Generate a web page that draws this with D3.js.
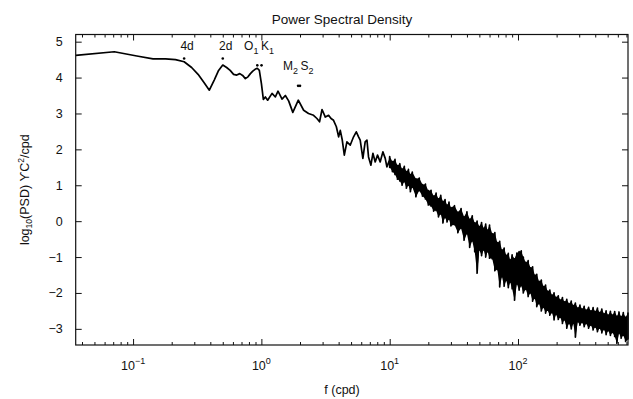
<!DOCTYPE html>
<html>
<head>
<meta charset="utf-8">
<script src="https://cdn.jsdelivr.net/npm/d3@7"></script>
<style>
  body { margin: 0; background: #fff; }
  text { font-family: "Liberation Sans", Arial, Helvetica, sans-serif; fill: #111; }
</style>
</head>
<body>
<div id="chart-area"></div>
<script>
// low frequency part of the spectrum, one line (f in cpd, log10 PSD)
const lowFreq = [0.0357, 0.0714, 0.107, 0.143, 0.179, 0.214, 0.25, 0.286, 0.321, 0.357,
  0.393, 0.429, 0.464, 0.5, 0.536, 0.571, 0.607, 0.643, 0.679, 0.714, 0.75, 0.786, 0.821,
  0.857, 0.893, 0.929, 0.964, 1.0, 1.036, 1.074, 1.119, 1.211, 1.285, 1.348, 1.449, 1.537,
  1.631, 1.758, 1.94, 2.135, 2.33, 2.55, 2.71, 2.84, 2.97, 3.15, 3.34, 3.49, 3.65, 3.84,
  4.0, 4.12, 4.27, 4.43, 4.64, 4.93, 5.23, 5.49, 5.72, 5.89, 6.18, 6.44, 6.65, 6.84, 7.14,
  7.4, 7.71, 8.04, 8.43, 8.85, 9.23, 9.51, 9.96]
const lowPsd = [4.62, 4.72, 4.6, 4.52, 4.52, 4.5, 4.44, 4.28, 4.09, 3.86,
  3.65, 3.93, 4.2, 4.35, 4.28, 4.2, 4.09, 4.07, 4.11, 4.06, 3.97, 4.02, 4.11,
  4.18, 4.23, 4.26, 4.2, 3.84, 3.39, 3.46, 3.37, 3.56, 3.46, 3.62, 3.4, 3.5,
  3.35, 3.03, 3.37, 3.09, 3.0, 2.95, 2.86, 2.77, 3.11, 2.9, 2.95, 2.86, 2.81, 2.63,
  2.35, 2.53, 2.26, 1.84, 2.21, 2.12, 2.35, 2.49, 2.35, 2.26, 1.75, 2.21, 2.26, 1.79, 1.56,
  1.89, 1.65, 1.84, 1.65, 1.93, 1.75, 1.51, 1.7]

// high frequency part: noisy band, upper and lower reading at each frequency
const bandFreq = [10, 10.5, 11, 11.5, 12, 12.5, 13, 13.5, 14, 14.5, 15, 16, 17, 18, 19, 20,
  21, 22, 23, 24, 25, 26, 27, 28, 29, 30, 32, 34, 36, 38, 40, 42, 44, 46, 48, 50, 52, 54,
  56, 58, 60, 63, 66, 69, 72, 75, 78, 81, 84, 87, 90, 94, 98, 102, 106, 110, 115, 120, 125,
  130, 135, 140, 146, 152, 158, 164, 170, 177, 184, 191, 198, 206, 214, 222, 230, 240, 250,
  260, 270, 280, 292, 304, 316, 328, 340, 355, 370, 385, 400, 416, 432, 450, 468, 486, 505,
  525, 545, 567, 590, 613, 637, 662, 690, 720]
const bandHi = [1.8, 1.66, 1.72, 1.55, 1.6, 1.45, 1.53, 1.38, 1.44, 1.3, 1.37, 1.18, 1.2, 1.02,
  1.03, 0.85, 0.86, 0.7, 0.78, 0.62, 0.72, 0.55, 0.6, 0.45, 0.53, 0.38, 0.43, 0.25, 0.35,
  0.12, 0.26, 0.05, 0.15, -0.05, 0.0, -0.15, -0.04, -0.2, -0.08, -0.25, -0.11, -0.35, -0.32,
  -0.6, -0.56, -0.8, -0.75, -0.95, -0.9, -1.08, -0.94, -1.05, -0.89, -0.85, -0.83, -1.0,
  -1.15, -1.1, -1.3, -1.27, -1.5, -1.48, -1.68, -1.64, -1.82, -1.78, -1.95, -1.92, -2.06,
  -2.0, -2.12, -2.08, -2.2, -2.13, -2.25, -2.18, -2.3, -2.23, -2.35, -2.28, -2.42, -2.34,
  -2.45, -2.37, -2.48, -2.4, -2.5, -2.41, -2.52, -2.42, -2.55, -2.45, -2.58, -2.5, -2.62,
  -2.51, -2.62, -2.52, -2.65, -2.53, -2.66, -2.55, -2.68, -2.56]
const bandLo = [1.5, 1.38, 1.3, 1.17, 1.12, 1.0, 1.1, 0.92, 1.0, 0.82, 0.95, 0.68, 0.85, 0.7,
  0.62, 0.45, 0.42, 0.28, 0.3, 0.12, 0.2, -0.05, 0.1, -0.02, 0.05, -0.13, -0.1, -0.32, -0.2,
  -0.53, -0.35, -0.73, -0.55, -0.85, -1.45, -0.8, -0.96, -0.8, -1.0, -0.85, -1.03, -1.05,
  -1.38, -1.35, -1.83, -1.55, -1.81, -1.65, -1.85, -1.7, -1.88, -2.2, -1.75, -1.92, -1.8,
  -2.0, -1.9, -2.1, -2.0, -2.23, -2.15, -2.38, -2.3, -2.5, -2.4, -2.56, -2.48, -2.62, -2.55,
  -2.75, -2.6, -2.74, -2.68, -2.85, -2.75, -2.98, -2.85, -3.0, -2.85, -3.23, -2.8, -2.9,
  -2.82, -2.94, -2.85, -2.98, -2.9, -3.03, -2.95, -3.08, -2.98, -3.11, -3.02, -3.16, -3.05,
  -3.18, -3.1, -3.21, -3.4, -3.12, -3.26, -3.18, -3.35, -3.3]

// tidal constituents marked on the plot
const tideNames = ["4d", "2d", "O", "K", "M", "S"]
const tideSubs = ["", "", "1", "1", "2", "2"]
const tideFreq = [0.25, 0.5, 0.9295, 1.0027, 1.9323, 2.0]
const tideLevel = [4.53, 4.53, 4.34, 4.34, 3.77, 3.77]

const xMajor = [0.1, 1, 10, 100]
const xMajorExp = ["\u22121", "0", "1", "2"]
const yTicks = [-3, -2, -1, 0, 1, 2, 3, 4, 5]

function main() {
  const W = 633, H = 399
  const MARGIN = { LEFT: 75.7, RIGHT: 5, TOP: 34.5, BOTTOM: 54 }
  const WIDTH = W - MARGIN.LEFT - MARGIN.RIGHT
  const HEIGHT = H - MARGIN.TOP - MARGIN.BOTTOM

  const svg = d3.select("#chart-area").append("svg")
    .attr("width", W).attr("height", H)
  const g = svg.append("g")
    .attr("transform", `translate(${MARGIN.LEFT}, ${MARGIN.TOP})`)

  const x = d3.scaleLog().domain([1 / 28, 720]).range([0, WIDTH])
  const y = d3.scaleLinear().domain([-3.45, 5.2]).range([HEIGHT, 0])

  // title
  svg.append("text")
    .attr("x", 342).attr("y", 24)
    .attr("text-anchor", "middle")
    .attr("font-size", "13.5px")
    .text("Power Spectral Density")

  // x label
  svg.append("text")
    .attr("x", 342).attr("y", 394)
    .attr("text-anchor", "middle")
    .attr("font-size", "12.5px")
    .text("f (cpd)")

  // y label
  const yl = svg.append("text")
    .attr("transform", `translate(29, ${MARGIN.TOP + HEIGHT / 2}) rotate(-90)`)
    .attr("text-anchor", "middle")
    .attr("font-size", "12.5px")
  yl.append("tspan").text("log")
  yl.append("tspan").attr("font-size", "8.5px").attr("dy", 3).text("10")
  yl.append("tspan").attr("dy", -3).text("(PSD) \u03D2C")
  yl.append("tspan").attr("font-size", "8.5px").attr("dy", -5).text("2")
  yl.append("tspan").attr("dy", 5).text("/cpd")

  // ticks: minor and major, pointing inwards on all four sides
  const minor = x.ticks().filter(d => !xMajor.includes(d))
  const axes = [
    [d3.axisBottom(x), `translate(0, ${HEIGHT})`],
    [d3.axisTop(x), "translate(0, 0)"]
  ]
  axes.forEach(([ax, tr]) => {
    g.append("g").attr("transform", tr)
      .call(ax.tickValues(minor).tickSize(-3).tickFormat(""))
      .call(s => s.select(".domain").remove())
    g.append("g").attr("transform", tr)
      .call(ax.tickValues(xMajor).tickSize(-6).tickFormat(""))
      .call(s => s.select(".domain").remove())
  })
  g.append("g")
    .call(d3.axisLeft(y).tickValues(yTicks).tickSize(-6).tickFormat(""))
    .call(s => s.select(".domain").remove())
  g.append("g").attr("transform", `translate(${WIDTH}, 0)`)
    .call(d3.axisRight(y).tickValues(yTicks).tickSize(-6).tickFormat(""))
    .call(s => s.select(".domain").remove())
  g.selectAll(".tick line").attr("stroke", "#111").attr("stroke-width", 1)

  // tick labels
  xMajor.forEach((d, i) => {
    const t = g.append("text")
      .attr("x", x(d)).attr("y", HEIGHT + 25)
      .attr("text-anchor", "middle")
      .attr("font-size", "12.5px")
    t.append("tspan").text("10")
    t.append("tspan").attr("font-size", "9px").attr("dy", -6).text(xMajorExp[i])
  })
  yTicks.forEach(d => {
    g.append("text")
      .attr("x", -13).attr("y", y(d) + 4.5)
      .attr("text-anchor", "end")
      .attr("font-size", "12.5px")
      .text(d < 0 ? "\u2212" + Math.abs(d) : d)
  })

  // noisy band body
  const band = bandFreq.map((f, i) => [f, bandHi[i], bandLo[i]])
  g.append("path")
    .datum(band)
    .attr("d", d3.area().x(d => x(d[0])).y0(d => y(d[2])).y1(d => y(d[1])))
    .attr("fill", "#000")

  // spectrum
  const pts = lowFreq.map((f, i) => [f, lowPsd[i]])
  band.forEach(d => {
    pts.push([d[0], d[1]])
    pts.push([d[0], d[2]])
  })
  const line = d3.line().x(d => x(d[0])).y(d => y(d[1]))
  g.append("path")
    .datum(pts)
    .attr("d", line)
    .attr("fill", "none")
    .attr("stroke", "#000")
    .attr("stroke-width", 1.7)
    .attr("stroke-linejoin", "round")

  // tidal marks
  tideFreq.forEach((f, i) => {
    g.append("circle")
      .attr("cx", x(f)).attr("cy", y(tideLevel[i]))
      .attr("r", 1.3).attr("fill", "#000")
  })
  tideNames.forEach((name, i) => {
    const cx = x(tideFreq[i]), cy = y(tideLevel[i])
    const t = g.append("text").attr("font-size", "12px")
    if (!tideSubs[i]) {
      t.attr("x", cx + 3).attr("y", cy - 8.5).attr("text-anchor", "middle").text(name)
      return
    }
    const left = i % 2 === 0
    const mid = (x(tideFreq[left ? i : i - 1]) + x(tideFreq[left ? i + 1 : i])) / 2
    t.attr("x", left ? mid - 1 : mid + 1.5).attr("y", cy - 15.5)
      .attr("text-anchor", left ? "end" : "start")
    t.append("tspan").text(name)
    t.append("tspan").attr("font-size", "9px").attr("dy", 4).text(tideSubs[i])
  })

  // frame
  g.append("rect")
    .attr("width", WIDTH).attr("height", HEIGHT)
    .attr("fill", "none").attr("stroke", "#111").attr("stroke-width", 1.2)
}

main()
</script>
</body>
</html>
